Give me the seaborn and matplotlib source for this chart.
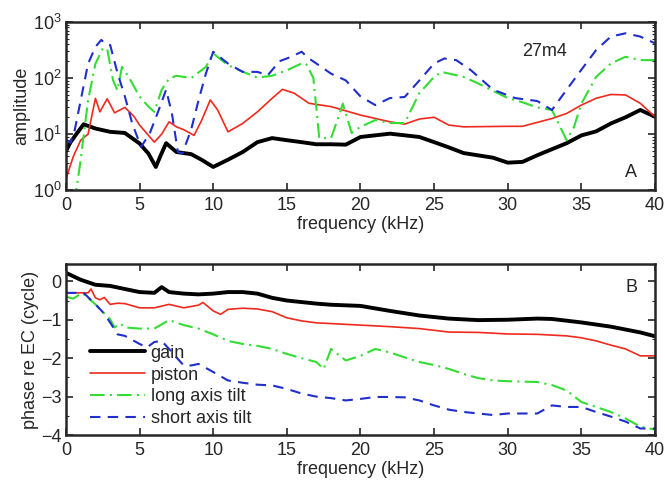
import numpy as np
import pandas as pd
import seaborn as sns
import matplotlib
matplotlib.use("Agg")
import matplotlib.pyplot as plt
from matplotlib.ticker import LogLocator, FixedLocator

# ---------------- data: panel A (amplitude) ----------------
gain_f = [0, 0.3, 0.7, 1.2, 2, 3, 4, 5, 5.6, 6.1, 6.4, 6.8, 7.5, 8.5, 9.2, 10, 11, 12, 13, 14,
          15, 16, 17, 18, 19, 20, 22, 24, 25, 26, 27, 29, 30, 31, 32, 34, 35, 36, 37, 38, 39, 40]
gain_amp = [5.0, 7.1, 10, 15.0, 12.6, 11, 10.5, 6.8, 4.5, 2.6, 4.0, 6.9, 4.8, 4.4, 3.5, 2.6, 3.5, 4.8, 7.2, 8.5,
            7.8, 7.2, 6.6, 6.6, 6.5, 8.9, 10.2, 8.9, 7.2, 5.8, 4.6, 3.8, 3.1, 3.2, 4.2, 6.9, 9.5, 11.2, 15.5, 20, 27, 20.4]

piston_f = [0, 0.5, 1, 1.5, 2, 2.3, 2.8, 3.3, 4, 4.6, 5, 6, 6.5, 7, 7.5, 8, 8.7, 9.2, 9.8, 10.3, 11, 12, 13,
            14, 14.7, 15.5, 16.5, 18, 20, 22, 23, 24, 25, 26, 27, 30, 31, 33, 34, 35, 36, 37, 38, 39, 40]
piston_amp = [1.6, 4.0, 7.8, 10, 43.6, 25, 42.7, 24, 30, 21, 14.5, 7.2, 10, 16.6, 13.5, 12, 9.5, 17.4, 40.7, 27, 11, 15.5, 25,
              43.6, 63, 53.7, 35.5, 31, 21.9, 16.6, 15.1, 18.6, 20, 14.5, 13.5, 13.8, 13.8, 19, 23.4, 33, 43.6, 51, 50, 35.5, 20.4]

long_f = [0, 0.3, 0.7, 1, 1.5, 2, 2.5, 2.8, 3.2, 3.5, 3.8, 4.3, 5, 5.6, 6, 6.5, 7, 7.5, 8.5, 9.5, 10, 11, 12, 13,
          14, 15, 16, 16.3, 16.8, 17.2, 18, 18.5, 18.8, 19.4, 20, 21, 22, 23, 24, 25, 25.5, 27, 28, 30, 31, 32, 33,
          34, 34.5, 35, 36, 37, 38, 39, 40]
long_amp = [0.8, 0.8, 1.0, 3.5, 40, 180, 340, 330, 91, 60, 158, 100, 47, 31, 25, 62, 98, 110, 100, 158, 275, 170, 130, 102,
            110, 138, 182, 182, 100, 8.5, 8.5, 20, 35, 10.5, 13.5, 17.8, 15.8, 15.8, 54, 105, 129, 105, 80, 44, 37, 30, 27,
            7.8, 13.5, 35, 105, 182, 240, 209, 209]

short_f = [0, 0.3, 0.6, 1, 1.5, 2, 2.4, 2.7, 3.0, 3.5, 4, 4.5, 5.1, 5.7, 6.3, 6.8, 7.2, 7.6, 7.9, 8.5, 9, 9.5, 10,
           11, 12, 13, 13.7, 14.5, 15.3, 16, 16.5, 17.5, 18, 19, 20, 21, 22, 23, 24, 25, 25.7, 26.5, 27.5, 29, 30.5,
           32, 33, 34, 35, 36, 37, 38, 39, 40]
short_amp = [8, 7, 12, 40, 180, 360, 480, 400, 390, 123, 47, 15.5, 5.9, 10.5, 27, 62, 23, 4.8, 4.5, 12, 40, 120, 295,
             182, 129, 129, 112, 200, 240, 295, 224, 148, 120, 91, 47, 33, 44, 46, 91, 182, 224, 209, 138, 62, 44,
             39, 27, 62, 141, 316, 550, 630, 550, 417]

# ---------------- data: panel B (phase) ----------------
gain_pf = [0, 1, 2, 3, 4, 5, 6, 6.5, 7, 8, 9, 10, 11, 12, 13, 14, 15, 16, 17, 18, 20, 22, 24, 26, 28, 30, 32,
           33, 35, 37, 39, 40]
gain_ph = [0.22, 0.04, -0.09, -0.12, -0.2, -0.28, -0.3, -0.15, -0.28, -0.32, -0.34, -0.32, -0.28, -0.28, -0.32,
           -0.43, -0.5, -0.54, -0.58, -0.61, -0.64, -0.77, -0.89, -0.97, -1.01, -1.0, -0.97, -0.98, -1.07, -1.18,
           -1.33, -1.43]

piston_pf = [0, 1.5, 1.7, 2, 2.3, 2.6, 3, 3.5, 4, 5, 6, 7, 8, 9, 9.3, 10, 10.5, 11, 12, 13, 14, 15, 16, 17, 18,
             20, 22, 24, 26, 28, 30, 32, 34, 35, 36, 37, 38, 39, 40]
piston_ph = [-0.3, -0.3, -0.2, -0.43, -0.48, -0.42, -0.6, -0.57, -0.58, -0.69, -0.69, -0.6, -0.69, -0.62, -0.55,
             -0.77, -0.86, -0.73, -0.7, -0.72, -0.79, -0.95, -1.03, -1.08, -1.1, -1.14, -1.18, -1.23, -1.32,
             -1.33, -1.37, -1.38, -1.42, -1.47, -1.55, -1.66, -1.76, -1.94, -1.94]

long_pf = [0, 0.5, 1.1, 2, 3, 3.3, 3.7, 4, 5, 6, 7, 8, 9, 10, 11, 12, 13, 14, 15, 16, 17, 17.5, 18, 19, 20, 21,
           22, 23, 24, 25, 26, 27, 28, 29, 30, 32, 33, 34, 35, 36, 37, 38, 39, 40]
long_ph = [-0.4, -0.45, -0.3, -0.6, -0.99, -1.2, -1.1, -1.2, -1.23, -1.23, -1.01, -1.14, -1.23, -1.38, -1.55,
           -1.63, -1.68, -1.76, -1.89, -2.0, -2.1, -2.28, -1.76, -2.06, -1.94, -1.76, -1.85, -1.98, -2.1, -2.18,
           -2.28, -2.41, -2.52, -2.58, -2.6, -2.62, -2.7, -2.84, -3.14, -3.27, -3.4, -3.57, -3.78, -3.86]

short_pf = [0, 1.2, 2, 2.5, 3, 3.5, 4, 5, 5.5, 6, 6.5, 7, 7.5, 8, 8.5, 9, 10, 11, 12, 13, 14, 15, 16, 17, 18, 19,
            20, 21, 22, 23, 24, 25, 26, 27, 28, 29, 30, 32, 33, 34, 35, 36, 37, 38, 39, 40]
short_ph = [-0.3, -0.3, -0.6, -0.8, -1.07, -1.38, -1.42, -1.63, -1.72, -1.58, -1.55, -1.76, -1.98, -2.19, -2.19,
            -2.15, -2.36, -2.58, -2.64, -2.69, -2.71, -2.8, -2.92, -3.0, -3.04, -3.1, -3.06, -3.01, -3.01, -3.02,
            -3.1, -3.23, -3.34, -3.4, -3.44, -3.48, -3.44, -3.44, -3.23, -3.27, -3.27, -3.4, -3.52, -3.65, -3.83,
            -3.83]

labels = ["gain", "piston", "long axis tilt", "short axis tilt"]
x_ticks = [0, 5, 10, 15, 20, 25, 30, 35, 40]
phase_ticks = [0, -1, -2, -3, -4]

# ---------------- style ----------------
FS = 13
sns.set_style("ticks")
plt.rcParams["font.family"] = ["Liberation Sans", "DejaVu Sans"]
plt.rcParams["mathtext.default"] = "regular"
plt.rcParams["font.size"] = FS
plt.rcParams["axes.unicode_minus"] = True

fig = plt.figure(figsize=(6.65, 4.84), dpi=100)
axA = fig.add_axes([0.0992, 0.607, 0.8858, 0.3475])
axB = fig.add_axes([0.0992, 0.1012, 0.8858, 0.3533])

colors = {"gain": "#000000", "piston": "#ee2a1e", "long axis tilt": "#33dd33", "short axis tilt": "#1f2ecc"}

def draw(ax, f, v, name, lw, dashes=None):
    sns.lineplot(x=f, y=v, ax=ax, color=colors[name], linewidth=lw, sort=False,
                 errorbar=None, estimator=None, label=name)
    ln = ax.lines[-1]
    if dashes is not None:
        ln.set_dashes(dashes)

dash_long = (7, 2.5, 1, 2.5)
dash_short = (5, 3.5)

# Panel A
draw(axA, gain_f, gain_amp, "gain", 2.8)
draw(axA, piston_f, piston_amp, "piston", 1.2)
draw(axA, long_f, long_amp, "long axis tilt", 1.5, dash_long)
draw(axA, short_f, short_amp, "short axis tilt", 1.5, dash_short)
axA.set_yscale("log")
axA.set_ylim(1, 1000)
axA.set_xlim(0, 40)
axA.legend_.remove()
axA.set_xlabel("frequency (kHz)", labelpad=1.5)
axA.set_ylabel("amplitude", labelpad=2)
axA.yaxis.set_major_locator(LogLocator(base=10, numticks=10))
axA.yaxis.set_minor_locator(LogLocator(base=10, subs=np.arange(2, 10), numticks=20))
axA.text(32.5, 300, "27m4", ha="center", va="center", fontsize=FS)
axA.text(38.4, 2.1, "A", ha="center", va="center", fontsize=FS)

# Panel B
draw(axB, gain_pf, gain_ph, "gain", 2.8)
draw(axB, piston_pf, piston_ph, "piston", 1.2)
draw(axB, long_pf, long_ph, "long axis tilt", 1.5, dash_long)
draw(axB, short_pf, short_ph, "short axis tilt", 1.5, dash_short)
axB.set_xlim(0, 40)
axB.set_ylim(-4, 0.45)
axB.yaxis.set_major_locator(FixedLocator(phase_ticks))
axB.yaxis.set_minor_locator(FixedLocator([-3.5, -2.5, -1.5, -0.5]))
axB.set_xlabel("frequency (kHz)", labelpad=1.5)
axB.set_ylabel("phase re EC (cycle)", labelpad=2)
axB.text(38.4, -0.16, "B", ha="center", va="center", fontsize=FS)
leg = axB.legend(loc="lower left", bbox_to_anchor=(0.04, 0.045), frameon=False,
                 borderpad=0, borderaxespad=0, handlelength=3.05, handletextpad=0.33,
                 labelspacing=0.27, fontsize=FS)

for ax in (axA, axB):
    ax.set_xticks(x_ticks)
    ax.tick_params(which="major", direction="in", length=5, width=1.2, top=True, right=True,
                   labelsize=FS, pad=3)
    ax.tick_params(axis="x", which="major", pad=4.8)
    ax.tick_params(which="minor", direction="in", length=2.5, width=0.8, top=False, right=True, left=True)
    for s in ax.spines.values():
        s.set_linewidth(1.8)
        s.set_visible(True)

fig.savefig("out.png", dpi=100)
